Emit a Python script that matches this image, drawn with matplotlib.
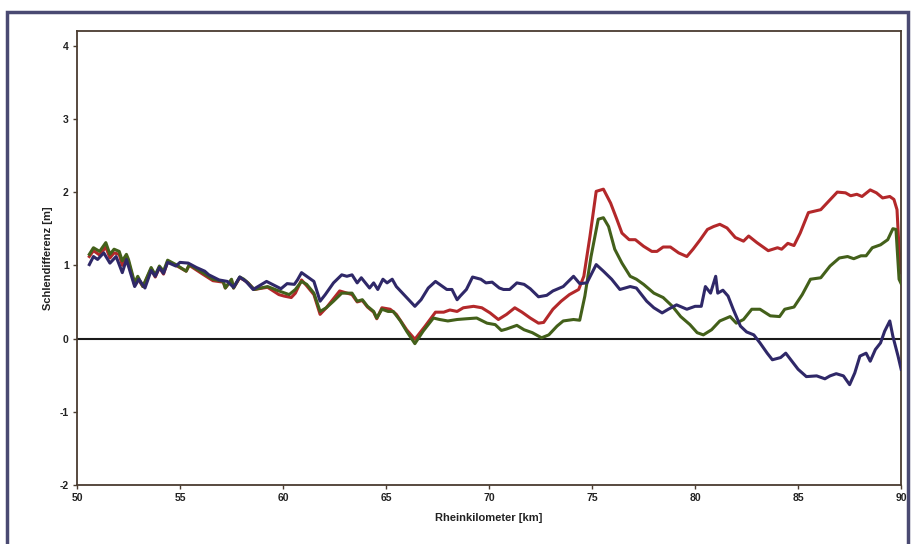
import matplotlib.pyplot as plt
from matplotlib.patches import Rectangle

plt.rcParams['font.family'] = ['Liberation Sans', 'DejaVu Sans']
plt.rcParams['axes.unicode_minus'] = False

# Rheinkilometer und Sohlendifferenz der drei Reihen
km_rot = [50.6, 50.8, 51.1, 51.4, 51.6, 51.8, 52.05, 52.2, 52.4, 52.5, 52.8, 52.95, 53.2, 53.6,
          53.8, 54.0, 54.2, 54.4, 54.8, 55.3, 55.45, 56.1, 56.6, 57.1, 57.2, 57.5, 57.6, 57.9,
          58.1, 58.3, 58.6, 59.25, 59.8, 60.05, 60.4, 60.6, 60.9, 61.15, 61.5, 61.8, 62.1,
          62.75, 63.35, 63.6, 63.85, 64.1, 64.4, 64.55, 64.8, 65.2, 65.5, 66.0, 66.4, 66.9,
          67.4, 67.8, 68.1, 68.45, 68.75, 69.25, 69.65, 70.05, 70.45, 70.85, 71.25, 71.6,
          72.0, 72.4, 72.65, 73.1, 73.5, 73.9, 74.35, 74.6, 74.9, 75.2, 75.55, 75.9, 76.2,
          76.45, 76.8, 77.1, 77.5, 77.9, 78.15, 78.45, 78.8, 79.2, 79.6, 79.9, 80.25, 80.6,
          80.9, 81.2, 81.55, 81.95, 82.35, 82.6, 83.0, 83.55, 84.0, 84.2, 84.5, 84.8, 85.1,
          85.5, 86.1, 86.5, 86.9, 87.3, 87.55, 87.85, 88.1, 88.5, 88.8, 89.1, 89.45, 89.65,
          89.8, 89.9, 90.0]
sd_rot = [1.12, 1.20, 1.14, 1.25, 1.10, 1.17, 1.15, 1.00, 1.12, 1.05, 0.73, 0.82, 0.71, 0.95,
          0.84, 0.97, 0.88, 1.05, 1.00, 0.92, 1.00, 0.88, 0.79, 0.77, 0.69, 0.80, 0.69, 0.83,
          0.80, 0.76, 0.67, 0.70, 0.60, 0.58, 0.56, 0.62, 0.80, 0.72, 0.60, 0.33, 0.42,
          0.65, 0.60, 0.50, 0.52, 0.43, 0.36, 0.27, 0.42, 0.40, 0.33, 0.12, -0.01, 0.17,
          0.36, 0.36, 0.39, 0.37, 0.42, 0.44, 0.42, 0.35, 0.26, 0.33, 0.42, 0.36,
          0.28, 0.21, 0.22, 0.40, 0.51, 0.60, 0.67, 0.85, 1.40, 2.01, 2.04, 1.85, 1.63,
          1.44, 1.35, 1.35, 1.26, 1.19, 1.19, 1.25, 1.25, 1.17, 1.12, 1.22, 1.35, 1.49,
          1.53, 1.56, 1.51, 1.38, 1.33, 1.40, 1.31, 1.20, 1.24, 1.22, 1.30, 1.27, 1.44,
          1.72, 1.76, 1.88, 2.00, 1.99, 1.95, 1.97, 1.94, 2.03, 1.99, 1.92, 1.94, 1.90,
          1.76, 1.22, 0.90]

km_gruen = [50.6, 50.8, 51.1, 51.4, 51.6, 51.8, 52.05, 52.2, 52.4, 52.5, 52.8, 52.95, 53.2,
            53.6, 53.8, 54.0, 54.2, 54.4, 54.8, 55.3, 55.45, 56.1, 56.6, 57.1, 57.2, 57.5,
            57.6, 57.9, 58.1, 58.3, 58.6, 59.25, 59.8, 60.3, 60.6, 60.9, 61.15, 61.5, 61.8,
            62.1, 62.45, 62.85, 63.35, 63.6, 63.85, 64.1, 64.4, 64.55, 64.8, 65.1, 65.35,
            65.7, 66.0, 66.4, 66.8, 67.3, 67.6, 68.0, 68.45, 68.9, 69.4, 69.9, 70.3, 70.6,
            70.85, 71.35, 71.7, 72.1, 72.55, 72.9, 73.3, 73.6, 74.1, 74.4, 74.65, 74.95,
            75.3, 75.55, 75.8, 76.1, 76.45, 76.85, 77.15, 77.5, 78.0, 78.45, 78.9, 79.3,
            79.75, 80.1, 80.4, 80.8, 81.2, 81.7, 82.0, 82.35, 82.75, 83.15, 83.65, 84.1,
            84.35, 84.8, 85.2, 85.6, 86.1, 86.55, 87.0, 87.4, 87.7, 88.05, 88.3, 88.6,
            89.0, 89.35, 89.6, 89.75, 89.9, 90.0]
sd_gruen = [1.15, 1.24, 1.19, 1.31, 1.15, 1.22, 1.19, 1.06, 1.15, 1.08, 0.76, 0.85, 0.71,
            0.97, 0.87, 0.99, 0.92, 1.07, 1.01, 0.92, 1.01, 0.90, 0.81, 0.78, 0.69, 0.81,
            0.69, 0.84, 0.81, 0.76, 0.67, 0.71, 0.65, 0.60, 0.67, 0.78, 0.74, 0.62, 0.37,
            0.42, 0.51, 0.62, 0.62, 0.51, 0.53, 0.44, 0.37, 0.28, 0.40, 0.37, 0.37,
            0.24, 0.10, -0.07, 0.10, 0.28, 0.26, 0.24, 0.26, 0.27, 0.28, 0.21, 0.19, 0.11,
            0.13, 0.18, 0.12, 0.08, 0.01, 0.05, 0.17, 0.24, 0.26, 0.25, 0.58, 1.12,
            1.63, 1.65, 1.53, 1.22, 1.03, 0.85, 0.81, 0.74, 0.62, 0.56, 0.44, 0.30,
            0.19, 0.08, 0.05, 0.12, 0.24, 0.30, 0.21, 0.26, 0.40, 0.40, 0.31, 0.30,
            0.40, 0.43, 0.60, 0.81, 0.83, 0.99, 1.10, 1.12, 1.09, 1.13, 1.13, 1.24,
            1.28, 1.35, 1.50, 1.49, 0.81, 0.75]

km_blau = [50.6, 50.8, 51.0, 51.3, 51.6, 51.9, 52.2, 52.4, 52.8, 53.0, 53.3, 53.6, 53.8,
           54.0, 54.2, 54.4, 54.8, 55.0, 55.4, 55.8, 56.2, 56.4, 56.9, 57.3, 57.6, 57.9,
           58.2, 58.55, 59.2, 59.9, 60.2, 60.55, 60.7, 60.9, 61.15, 61.5, 61.8, 62.05,
           62.45, 62.85, 63.1, 63.35, 63.6, 63.8, 64.2, 64.4, 64.6, 64.85, 65.05, 65.3,
           65.5, 66.0, 66.4, 66.7, 67.05, 67.4, 67.7, 67.95, 68.2, 68.45, 68.6, 68.9, 69.2,
           69.6, 69.85, 70.15, 70.5, 70.7, 71.0, 71.35, 71.7, 72.0, 72.4, 72.8, 73.1, 73.6,
           74.1, 74.4, 74.75, 75.2, 75.55, 75.95, 76.35, 76.85, 77.15, 77.65, 78.0, 78.4,
           78.7, 79.1, 79.6, 80.0, 80.3, 80.5, 80.75, 81.0, 81.1, 81.35, 81.6, 81.85, 82.2,
           82.5, 82.85, 83.15, 83.5, 83.75, 84.15, 84.4, 84.7, 85.0, 85.4, 85.9, 86.3,
           86.55, 86.85, 87.2, 87.5, 87.75, 88.0, 88.3, 88.5, 88.75, 89.0, 89.2, 89.45,
           89.6, 89.85, 90.0]
sd_blau = [1.01, 1.12, 1.08, 1.17, 1.03, 1.12, 0.90, 1.08, 0.71, 0.81, 0.69, 0.93, 0.85,
           0.97, 0.89, 1.04, 0.99, 1.04, 1.03, 0.97, 0.92, 0.87, 0.80, 0.78, 0.70, 0.84,
           0.78, 0.67, 0.78, 0.68, 0.75, 0.74, 0.80, 0.90, 0.85, 0.78, 0.51, 0.60,
           0.76, 0.87, 0.85, 0.87, 0.76, 0.83, 0.69, 0.76, 0.67, 0.81, 0.76, 0.81,
           0.71, 0.56, 0.44, 0.53, 0.69, 0.78, 0.72, 0.67, 0.67, 0.53, 0.58, 0.67, 0.84,
           0.81, 0.76, 0.77, 0.69, 0.67, 0.67, 0.76, 0.74, 0.68, 0.57, 0.59, 0.65, 0.71,
           0.85, 0.75, 0.76, 1.01, 0.92, 0.81, 0.67, 0.71, 0.69, 0.51, 0.42, 0.35,
           0.40, 0.46, 0.40, 0.44, 0.44, 0.71, 0.62, 0.85, 0.62, 0.66, 0.58, 0.40, 0.17,
           0.09, 0.05, -0.06, -0.20, -0.29, -0.26, -0.20, -0.31, -0.42, -0.52, -0.51, -0.55,
           -0.51, -0.48, -0.51, -0.63, -0.47, -0.24, -0.20, -0.31, -0.15, -0.06, 0.10, 0.24,
           0.03, -0.24, -0.42]

fig = plt.figure(figsize=(9.13, 5.44), dpi=100)
ax = fig.add_axes([0.0843, 0.1085, 0.9027, 0.8345])

# äußerer Rahmen
fig.patches.append(Rectangle((0.008, -0.02), 0.987, 0.998, transform=fig.transFigure,
                             fill=False, edgecolor='#4a4a72', linewidth=2.5))

ax.axhline(0, color='#1a1a1a', linewidth=1.5, zorder=1)
ax.plot(km_rot, sd_rot, color='#b3282a', linewidth=2.2, zorder=2)
ax.plot(km_gruen, sd_gruen, color='#43601a', linewidth=2.2, zorder=3)
ax.plot(km_blau, sd_blau, color='#2f2868', linewidth=2.2, zorder=4)

ax.set_xlim(50, 90)
ax.set_ylim(-2, 4.2)
ax.set_xticks(range(50, 91, 5))
ax.set_yticks(range(-2, 5))

for s in ax.spines.values():
    s.set_color('#4a3c30')
    s.set_linewidth(1.3)
ax.tick_params(direction='out', length=3, width=1, color='#4a3c30', labelsize=7.5,
               labelcolor='#222222', pad=3)
for lab in ax.get_xticklabels() + ax.get_yticklabels():
    lab.set_fontweight('bold')

ax.set_xlabel('Rheinkilometer [km]', fontsize=8, fontweight='bold', color='#222222', labelpad=7)
ax.set_ylabel('Schlendifferenz [m]', fontsize=8, fontweight='bold', color='#222222', labelpad=5)

fig.savefig('out.png', dpi=100)
